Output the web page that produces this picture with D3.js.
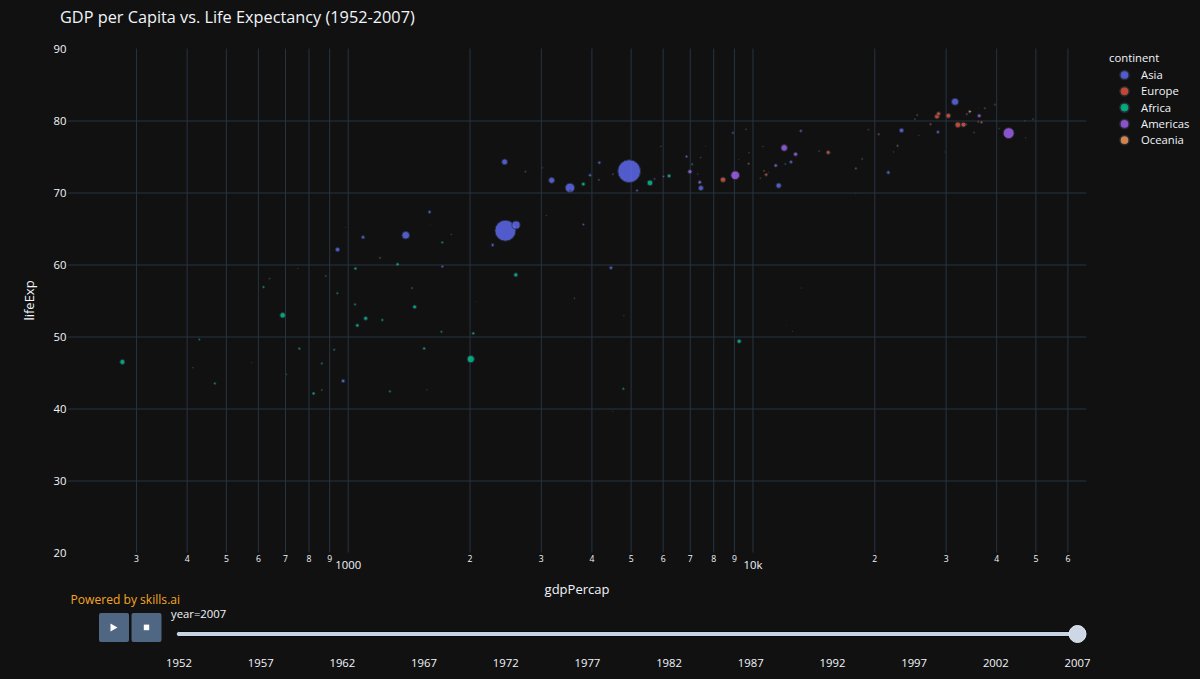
<!DOCTYPE html>
<html><head><meta charset="utf-8">
<script src="https://cdn.jsdelivr.net/npm/d3@7"></script>
<style>
body{margin:0;background:#111111;}
svg{display:block;font-family:"Open Sans",verdana,arial,sans-serif;}
</style>
</head><body>
<svg id="chart" width="1200" height="679"></svg>
<script>
// ---------- DATA (gapminder, year 2007) ----------
const continents = ["Asia","Europe","Africa","Americas","Oceania"];
const continentColors = ["#636efa","#EF553B","#00cc96","#ab63fa","#FFA15A"];

const country = [
"Afghanistan","Bahrain","Bangladesh","Cambodia","China","Hong Kong, China","India","Indonesia","Iran","Iraq","Israel","Japan","Jordan","Korea, Dem. Rep.","Korea, Rep.","Kuwait","Lebanon","Malaysia","Mongolia","Myanmar","Nepal","Oman","Pakistan","Philippines","Saudi Arabia","Singapore","Sri Lanka","Syria","Taiwan","Thailand","Vietnam","West Bank and Gaza","Yemen, Rep.",
"Albania","Austria","Belgium","Bosnia and Herzegovina","Bulgaria","Croatia","Czech Republic","Denmark","Finland","France","Germany","Greece","Hungary","Iceland","Ireland","Italy","Montenegro","Netherlands","Norway","Poland","Portugal","Romania","Serbia","Slovak Republic","Slovenia","Spain","Sweden","Switzerland","Turkey","United Kingdom",
"Algeria","Angola","Benin","Botswana","Burkina Faso","Burundi","Cameroon","Central African Republic","Chad","Comoros","Congo, Dem. Rep.","Congo, Rep.","Cote d'Ivoire","Djibouti","Egypt","Equatorial Guinea","Eritrea","Ethiopia","Gabon","Gambia","Ghana","Guinea","Guinea-Bissau","Kenya","Lesotho","Liberia","Libya","Madagascar","Malawi","Mali","Mauritania","Mauritius","Morocco","Mozambique","Namibia","Niger","Nigeria","Reunion","Rwanda","Sao Tome and Principe","Senegal","Sierra Leone","Somalia","South Africa","Sudan","Swaziland","Tanzania","Togo","Tunisia","Uganda","Zambia","Zimbabwe",
"Argentina","Bolivia","Brazil","Canada","Chile","Colombia","Costa Rica","Cuba","Dominican Republic","Ecuador","El Salvador","Guatemala","Haiti","Honduras","Jamaica","Mexico","Nicaragua","Panama","Paraguay","Peru","Puerto Rico","Trinidad and Tobago","United States","Uruguay","Venezuela",
"Australia","New Zealand"];

const continentCount = [33, 30, 52, 25, 2];

const gdpPercap = [
974.58,29796.05,1391.25,1713.78,4959.11,39724.98,2452.21,3540.65,11605.71,4471.06,25523.28,31656.07,4519.46,1593.07,23348.14,47306.99,10461.06,12451.66,3095.77,944.00,1091.36,22316.19,2605.95,3190.48,21654.83,47143.18,3970.10,4184.55,28718.28,7458.40,2441.58,3025.35,2280.77,
5937.03,36126.49,33692.61,7446.30,10680.79,14619.22,22833.31,35278.42,33207.08,30470.02,32170.37,27538.41,18008.94,36180.79,40676.00,28569.72,9253.90,36797.93,49357.19,15389.92,20509.65,10808.48,9786.53,18678.31,25768.26,28821.06,33859.75,37506.42,8458.28,33203.26,
6223.37,4797.23,1441.28,12569.85,1217.03,430.07,2042.10,706.02,1704.06,986.15,277.55,3632.56,1544.75,2082.48,5581.18,12154.09,641.37,690.81,13206.48,752.75,1327.61,942.65,579.23,1463.25,1569.33,414.51,12057.50,1044.77,759.35,1042.58,1803.15,10956.99,3820.18,823.69,4811.06,619.68,2013.98,7670.12,863.09,1598.44,1712.47,862.54,926.14,9269.66,2602.39,4513.48,1107.48,882.97,7092.92,1056.38,1271.21,469.71,
12779.38,3822.14,9065.80,36319.24,13171.64,7006.58,9645.06,8948.10,6025.37,6873.26,5728.35,5186.05,1201.64,3548.33,7320.88,11977.57,2749.32,9809.19,4172.84,7408.91,19328.71,18008.51,42951.65,10611.46,11415.81,
34435.37,25185.01];

const lifeExp = [
43.828,75.635,64.062,59.723,72.961,82.208,64.698,70.650,70.964,59.545,80.745,82.603,72.535,67.297,78.623,77.588,71.993,74.241,66.803,62.069,63.785,75.640,65.483,71.688,72.777,79.972,72.396,74.143,78.400,70.616,74.249,73.422,62.698,
76.423,79.829,79.441,74.852,73.005,75.748,76.486,78.332,79.313,80.657,79.406,79.483,73.338,81.757,78.885,80.546,74.543,79.762,80.196,75.563,78.098,72.476,74.002,74.663,77.926,80.941,80.884,81.701,71.777,79.425,
72.301,42.731,56.728,50.728,52.295,49.580,50.430,44.741,50.651,65.152,46.462,55.322,48.328,54.791,71.338,51.579,58.040,52.947,56.735,59.448,60.022,56.007,46.388,54.110,42.592,45.678,73.952,59.443,48.303,54.467,64.164,72.801,71.164,42.082,52.906,56.867,46.859,76.442,46.242,65.528,63.062,42.568,48.159,49.339,58.556,39.613,52.517,58.420,73.923,51.542,42.384,43.487,
75.320,65.554,72.390,80.653,78.553,72.889,78.782,78.273,72.235,74.994,71.878,70.259,60.916,70.198,72.567,76.195,72.899,75.537,71.752,71.421,78.746,69.819,78.242,76.384,73.747,
81.235,80.204];

const pop = [
31889923,708573,150448339,14131858,1318683096,6980412,1110396331,223547000,69453570,27499638,6426679,127467972,6053193,23301725,49044790,2505559,3921278,24821286,2874127,47761980,28901790,3204897,169270617,91077287,27601038,4553009,20378239,19314747,23174294,65068149,85262356,4018332,22211743,
3600523,8199783,10392226,4552198,7322858,4493312,10228744,5468120,5238460,61083916,82400996,10706290,9956108,301931,4109086,58147733,684736,16570613,4627926,38518241,10642836,22276056,10150265,5447502,2009245,40448191,9031088,7554661,71158647,60776238,
33333216,12420476,8078314,1639131,14326203,8390505,17696293,4369038,10238807,710960,64606759,3800610,18013409,496374,80264543,551201,4906585,76511887,1454867,1688359,22873338,9947814,1472041,35610177,2012649,3193942,6036914,19167654,13327079,12031795,3270065,1250882,33757175,19951656,2055080,12894865,135031164,798094,8860588,199579,12267493,6144562,9118773,43997828,42292929,1133066,38139640,5701579,10276158,29170398,11746035,12311143,
40301927,9119152,190010647,33390141,16284741,44227550,4133884,11416987,9319622,13755680,6939688,12572928,8502814,7483763,2780132,108700891,5675356,3242173,6667147,28674757,3942491,1056608,301139947,3447496,26084662,
20434176,4115771];

const yTickValues = [20,30,40,50,60,70,80,90];
const yGridValues = [30,40,50,60,70,80];
const xMajorTicks = [1000, 10000];
const xMajorLabels = ["1000", "10k"];
const xMinorTicks = [300,400,500,600,700,800,900,2000,3000,4000,5000,6000,7000,8000,9000,20000,30000,40000,50000,60000];
const years = [1952,1957,1962,1967,1972,1977,1982,1987,1992,1997,2002,2007];
const currentYear = 2007;

// ---------- BUILD ROWS ----------
const continentOf = [];
continentCount.forEach((n, i) => { for (let k = 0; k < n; k++) continentOf.push(continents[i]); });
const rows = country.map((c, i) => ({country: c, continent: continentOf[i], gdp: gdpPercap[i], life: lifeExp[i], pop: pop[i]}));

// ---------- LAYOUT ----------
const svg = d3.select("#chart");
const W = 1200, H = 679;
const plot = {left: 68, right: 1086, top: 48.5, bottom: 552.5};
const textColor = "#f2f5fa";
const gridColor = "#283442";
const FS = 11.3; // base font size

svg.append("rect").attr("width", W).attr("height", H).attr("fill", "#111111");

const x = d3.scaleLog().domain([Math.pow(10, 2.309), Math.pow(10, 4.824)]).range([plot.left, plot.right]);
const y = d3.scaleLinear().domain([20, 90]).range([plot.bottom, plot.top]);
const maxPop = d3.max(pop);
const r = d3.scaleSqrt().domain([0, maxPop]).range([0, 11.4]);
const color = d3.scaleOrdinal().domain(continents).range(continentColors);

// gridlines
const allXTicks = xMinorTicks.concat(xMajorTicks).sort((a,b)=>a-b);
const xGrid = svg.append("g").attr("transform", `translate(0,${plot.bottom})`)
  .call(d3.axisBottom(x).tickValues(allXTicks).tickSize(-(plot.bottom - plot.top)).tickFormat(""));
xGrid.select(".domain").remove();
xGrid.selectAll("line").attr("stroke", gridColor).attr("stroke-width", 1);

const yGrid = svg.append("g").attr("transform", `translate(${plot.left},0)`)
  .call(d3.axisLeft(y).tickValues(yGridValues).tickSize(-(plot.right - plot.left)).tickFormat(""));
yGrid.select(".domain").remove();
yGrid.selectAll("line").attr("stroke", gridColor).attr("stroke-width", 1);

// x tick labels
const xLab = svg.append("g").attr("transform", `translate(0,${plot.bottom})`)
  .call(d3.axisBottom(x).tickValues(allXTicks).tickSize(0).tickFormat(d => {
    const mi = xMajorTicks.indexOf(d);
    if (mi >= 0) return xMajorLabels[mi];
    return String(Math.round(d / Math.pow(10, Math.floor(Math.log10(d) + 1e-9))));
  }));
xLab.select(".domain").remove();
xLab.selectAll("text")
  .attr("fill", textColor)
  .attr("font-family", '"Open Sans",verdana,arial,sans-serif')
  .attr("font-size", d => xMajorTicks.includes(d) ? FS : 8.6)
  .attr("y", d => xMajorTicks.includes(d) ? 8.5 : 3.5);

// y tick labels
const yLab = svg.append("g").attr("transform", `translate(${plot.left},0)`)
  .call(d3.axisLeft(y).tickValues(yTickValues).tickSize(0).tickPadding(1.5));
yLab.select(".domain").remove();
yLab.selectAll("text").attr("fill", textColor).attr("font-size", FS)
  .attr("font-family", '"Open Sans",verdana,arial,sans-serif');

// points
const clipId = "plotclip";
svg.append("clipPath").attr("id", clipId).append("rect")
  .attr("x", plot.left).attr("y", plot.top).attr("width", plot.right - plot.left).attr("height", plot.bottom - plot.top);

const pts = svg.append("g").attr("clip-path", `url(#${clipId})`);
continents.forEach(cont => {
  pts.append("g").selectAll("circle")
    .data(rows.filter(d => d.continent === cont))
    .join("circle")
    .attr("cx", d => x(d.gdp))
    .attr("cy", d => y(d.life))
    .attr("r", d => r(d.pop))
    .attr("fill", color(cont))
    .attr("stroke", gridColor)
    .attr("stroke-width", 1)
    .attr("opacity", 0.8);
});

// title
svg.append("text").attr("x", 60).attr("y", 23.3).attr("fill", textColor).attr("font-size", 16.3)
  .text("GDP per Capita vs. Life Expectancy (1952-2007)");

// axis titles
svg.append("text").attr("x", (plot.left + plot.right) / 2).attr("y", 593.5).attr("text-anchor", "middle")
  .attr("fill", textColor).attr("font-size", 13).text("gdpPercap");
svg.append("text").attr("transform", `translate(34,${(plot.top + plot.bottom) / 2}) rotate(-90)`)
  .attr("text-anchor", "middle").attr("fill", textColor).attr("font-size", 13).text("lifeExp");

// legend
const leg = svg.append("g");
leg.append("text").attr("x", 1109).attr("y", 62).attr("fill", textColor).attr("font-size", FS).text("continent");
continents.forEach((c, i) => {
  const cy = 75 + i * 16.3;
  leg.append("circle").attr("cx", 1124.5).attr("cy", cy).attr("r", 4.6)
    .attr("fill", color(c)).attr("stroke", gridColor).attr("stroke-width", 1.5).attr("opacity", 0.8);
  leg.append("text").attr("x", 1141).attr("y", cy + 4).attr("fill", textColor).attr("font-size", FS).text(c);
});

// watermark
svg.append("text").attr("x", 70.5).attr("y", 604.3).attr("fill", "#f5a623").attr("font-size", 12.1)
  .text("Powered by skills.ai");

// play / stop buttons
const btn = svg.append("g");
btn.append("rect").attr("x", 99).attr("y", 613).attr("width", 30).attr("height", 29).attr("rx", 2).attr("fill", "#506784");
btn.append("rect").attr("x", 131.5).attr("y", 613).attr("width", 30).attr("height", 29).attr("rx", 2).attr("fill", "#506784");
btn.append("path").attr("d", "M110.5,623.5 L117.5,627.5 L110.5,631.5 Z").attr("fill", "#ffffff");
btn.append("rect").attr("x", 143.8).attr("y", 624.6).attr("width", 5.4).attr("height", 5.6).attr("fill", "#ffffff");

// slider
const sx = d3.scaleLinear().domain([years[0], years[years.length - 1]]).range([179, 1077.5]);
svg.append("text").attr("x", 171).attr("y", 618.2).attr("fill", textColor).attr("font-size", FS).text("year=" + currentYear);
svg.append("rect").attr("x", 176.5).attr("y", 631.5).attr("width", 903).attr("height", 5).attr("rx", 2)
  .attr("fill", "#c8d4e3").attr("stroke", "#0a0a0a").attr("stroke-width", 1);
svg.append("g").selectAll("text").data(years).join("text")
  .attr("x", d => sx(d)).attr("y", 666.7).attr("text-anchor", "middle")
  .attr("fill", textColor).attr("font-size", FS).text(d => d);
svg.append("circle").attr("cx", sx(currentYear)).attr("cy", 634).attr("r", 8.5)
  .attr("fill", "#cdd7e5").attr("stroke", "#e6ebf2").attr("stroke-width", 1);
</script>
</body></html>
